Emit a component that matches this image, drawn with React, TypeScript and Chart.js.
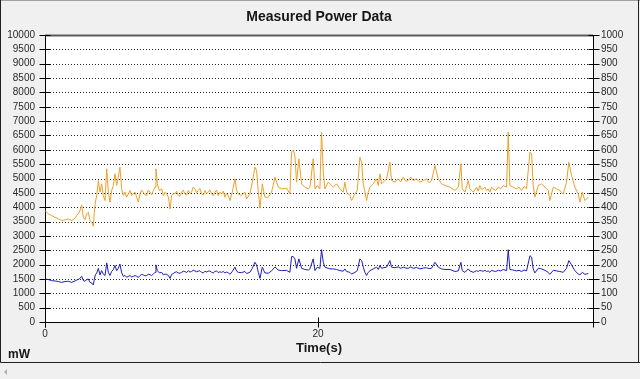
import React, { useEffect, useRef } from 'react';
import { Chart, registerables } from 'chart.js';

Chart.register(...registerables);

const TITLE = 'Measured Power Data';
const X_TITLE = 'Time(s)';
const Y_UNIT = 'mW';
const X_TICKS = [0, 20];

// time in seconds
const TIME_S = [
  0.00, 0.24, 0.49, 0.73, 0.98, 1.22, 1.47, 1.71, 1.95, 2.20, 2.32, 2.52, 2.69, 2.81, 2.93, 3.05, 3.17, 3.30, 3.42, 3.54,
  3.61, 3.69, 3.79, 3.91, 4.03, 4.15, 4.27, 4.40, 4.52, 4.64, 4.76, 4.88, 5.01, 5.13, 5.25, 5.37, 5.49, 5.62, 5.74, 5.86,
  5.98, 6.11, 6.23, 6.35, 6.47, 6.59, 6.72, 6.84, 6.96, 7.08, 7.20, 7.32, 7.45, 7.57, 7.69, 7.81, 7.94, 8.06, 8.13, 8.23, 8.38, 8.55, 8.67, 8.79,
  8.91, 9.04, 9.16, 9.28, 9.40, 9.52, 9.64, 9.76, 9.88, 10.01, 10.13, 10.25, 10.37, 10.50, 10.62, 10.74, 10.86, 10.99, 11.11, 11.23,
  11.35, 11.47, 11.60, 11.72, 11.84, 11.96, 12.08, 12.21, 12.33, 12.45, 12.57, 12.69, 12.81, 12.94, 13.06,
  13.18, 13.30, 13.43, 13.55, 13.72, 13.92, 14.04, 14.16, 14.40, 14.65, 14.77, 15.01, 15.19, 15.38, 15.50, 15.63, 15.75, 15.92, 16.11, 16.36, 16.60,
  16.85, 17.09, 17.33, 17.70, 17.94, 18.07, 18.19, 18.31, 18.43, 18.60, 18.80, 19.04, 19.29, 19.41, 19.65, 19.78, 19.95, 20.14, 20.26, 20.39,
  20.51, 20.75, 20.88, 21.12, 21.36, 21.61, 21.85, 21.97, 22.10, 22.34, 22.46, 22.71, 22.88, 23.07, 23.20, 23.32, 23.44, 23.56, 23.68, 23.81,
  24.05, 24.29, 24.42, 24.54, 24.66, 24.78, 25.03, 25.27, 25.39, 25.64, 25.88, 26.06, 26.25, 26.43, 26.61, 26.80, 26.98, 27.22, 27.47, 27.72,
  27.96, 28.14, 28.32, 28.57, 28.81, 29.06,
  29.30, 29.67, 30.03, 30.28, 30.47, 30.57, 30.77, 31.01, 31.13, 31.38, 31.62, 31.74, 31.86, 31.98, 32.11, 32.23, 32.35, 32.47, 32.60, 32.72,
  32.84, 33.02, 33.21, 33.39, 33.57, 33.82, 33.94,
  34.06, 34.31, 34.55, 34.73, 34.92, 35.10, 35.28, 35.53, 35.65, 35.77, 35.89, 36.14, 36.38, 36.63, 36.87, 36.99, 37.24, 37.48, 37.72, 37.97,
  38.21, 38.38,
  38.58, 38.82, 39.07, 39.19, 39.36, 39.56, 39.80,
];

// orange series, left axis (mW)
const POWER_MW = [
  3883, 3767, 3709, 3651, 3593, 3534, 3558, 3593, 3534, 3616, 3709, 3825, 4081, 3651, 3569, 3767, 3825, 3534, 3476, 3337,
  3825, 4174, 4407, 4930, 4523, 4814, 4407, 4232, 5337, 4523, 4174, 4581, 4756, 5163, 4756, 5047, 5395, 4639, 4407, 4523,
  4349, 4465, 4581, 4407, 4465, 4523, 4349, 4174, 4465, 4600, 4523, 4430, 4407, 4600, 4523, 4430, 4581, 4698, 5337, 4814, 4581, 4639, 4407, 4523,
  4465, 4349, 3941, 4407, 4465, 4465, 4560, 4407, 4380, 4523, 4600, 4465, 4420, 4581, 4480, 4523, 4700, 4639, 4500, 4581,
  4650, 4465, 4420, 4581, 4480, 4523, 4600, 4465, 4400, 4523, 4600, 4407, 4520, 4465, 4560,
  4349, 4480, 4407, 4232, 4523, 4988, 4581, 4465, 4407, 4523, 4290, 4465, 4872, 5395, 5279, 4523, 3965, 4814, 4349, 4349, 4523,
  5047, 4698, 4639, 4662, 4465, 5919, 5977, 5802, 4872, 5686, 4814, 4698, 4639, 4698, 5686, 4639, 4756, 4639, 6616, 5221,
  4639, 4872, 4814, 4698, 4814, 4639, 4523, 4872, 4523, 4407, 4232, 4465, 4581, 5744, 5570, 4814, 4523, 4232, 4523, 4698,
  4814, 4988, 4756, 5163, 4814, 4872, 4988, 5570, 4930, 4872, 4988, 4880, 5047, 4900, 4930, 5050, 4930, 4980, 4872, 4930,
  4988, 4850, 4930, 5453, 4988, 4814,
  4756, 4698, 4581, 4698, 5512, 4639, 4523, 4930, 4639, 4523, 4698, 4560, 4756, 4620, 4639, 4700, 4581, 4640, 4523, 4700,
  4639, 4580, 4698, 4640, 4756, 4698, 6616,
  4756, 4698, 4639, 4700, 4581, 4720, 4639, 5919, 5860, 4756, 4349, 4756, 4814, 4698, 4581, 4232, 4698, 4639, 4581, 4465,
  4872, 5570,
  5105, 4698, 4465, 4174, 4523, 4232, 4349,
];

// blue series, right axis
const CURRENT = [
  150, 148, 144, 143, 141, 138, 141, 142, 138, 143, 146, 150, 159, 144, 142, 148, 150, 138, 136, 129,
  148, 164, 171, 187, 164, 179, 167, 162, 206, 173, 162, 176, 183, 197, 179, 187, 202, 171, 159, 162,
  156, 159, 162, 157, 159, 162, 159, 155, 162, 166, 164, 161, 162, 166, 165, 162, 167, 173, 199, 179, 171, 173, 164, 167,
  166, 162, 152, 166, 169, 173, 175, 171, 170, 173, 177, 176, 172, 179, 174, 176, 180, 178, 175, 177,
  179, 173, 171, 177, 174, 177, 178, 173, 171, 176, 178, 172, 175, 173, 176,
  171, 174, 172, 166, 176, 191, 177, 173, 172, 176, 169, 173, 187, 208, 199, 173, 152, 191, 171, 170, 178,
  192, 181, 179, 180, 173, 228, 228, 220, 187, 220, 187, 183, 181, 185, 220, 179, 191, 187, 252, 208,
  191, 187, 185, 185, 183, 179, 177, 185, 176, 173, 167, 173, 179, 220, 214, 191, 173, 162, 173, 179,
  185, 191, 183, 197, 187, 189, 191, 214, 191, 189, 192, 187, 191, 188, 187, 192, 187, 190, 185, 188,
  189, 186, 187, 208, 191, 185,
  183, 183, 176, 178, 208, 179, 173, 185, 178, 173, 179, 176, 180, 178, 177, 180, 176, 178, 173, 180,
  178, 176, 180, 178, 183, 179, 252,
  183, 181, 178, 180, 176, 181, 178, 231, 226, 185, 171, 187, 185, 180, 173, 166, 180, 178, 176, 173,
  187, 214,
  199, 179, 167, 164, 173, 166, 169,
];

const BG = '#f0f0f0';
const TEXT = '#161616';
const TICK_FONT = { family: 'Liberation Sans, Arial, sans-serif', size: 10 };

const framePlugin = {
  id: 'frame',
  beforeDraw(chart: any) {
    const { ctx, chartArea: a, width, height } = chart;
    ctx.save();
    ctx.fillStyle = BG;
    ctx.fillRect(0, 0, width, height);
    ctx.fillStyle = '#ffffff';
    ctx.fillRect(a.left, a.top, a.right - a.left, a.bottom - a.top);
    ctx.restore();
  },
  beforeDatasetsDraw(chart: any) {
    const { ctx, chartArea: a, scales } = chart;
    const y = scales.y, y1 = scales.y1, x = scales.x;
    ctx.save();
    ctx.lineWidth = 1;
    // dotted grid lines
    ctx.strokeStyle = '#262626';
    ctx.setLineDash([1, 2]);
    y.ticks.forEach((t: any) => {
      if (t.value <= y.min || t.value >= y.max) return;
      const py = Math.round(y.getPixelForValue(t.value)) + 0.5;
      ctx.beginPath();
      ctx.moveTo(a.left + 2, py);
      ctx.lineTo(a.right, py);
      ctx.stroke();
    });
    ctx.setLineDash([]);
    // thick top line
    ctx.strokeStyle = '#5a5a5a';
    ctx.lineWidth = 2;
    ctx.beginPath();
    ctx.moveTo(a.left, a.top + 0.5);
    ctx.lineTo(a.right, a.top + 0.5);
    ctx.stroke();
    ctx.lineWidth = 1;
    ctx.strokeStyle = '#000000';
    const L = Math.round(a.left) + 0.5;
    const R = Math.round(a.right) + 0.5;
    const B = Math.round(a.bottom) + 0.5;
    // axes
    ctx.beginPath();
    ctx.moveTo(L, a.top);
    ctx.lineTo(L, B + 5);
    ctx.moveTo(R, a.top);
    ctx.lineTo(R, B + 5);
    ctx.moveTo(a.left - 5, B);
    ctx.lineTo(a.right, B);
    ctx.stroke();
    // tick marks crossing axes
    ctx.beginPath();
    y.ticks.forEach((t: any) => {
      const py = Math.round(y.getPixelForValue(t.value)) + 0.5;
      ctx.moveTo(L - 6, py);
      ctx.lineTo(L + 5, py);
    });
    y1.ticks.forEach((t: any) => {
      const py = Math.round(y1.getPixelForValue(t.value)) + 0.5;
      ctx.moveTo(R - 5, py);
      ctx.lineTo(R + 6, py);
    });
    x.ticks.forEach((t: any) => {
      const px = Math.round(x.getPixelForValue(t.value)) + 0.5;
      ctx.moveTo(px, B - 5);
      ctx.lineTo(px, B + 5);
    });
    ctx.stroke();
    // x tick labels
    ctx.fillStyle = '#2a2a2a';
    ctx.font = '10px "Liberation Sans", Arial, sans-serif';
    ctx.textAlign = 'center';
    ctx.textBaseline = 'middle';
    x.ticks.forEach((t: any) => {
      ctx.fillText(String(t.value), x.getPixelForValue(t.value), 334);
    });
    ctx.restore();
  },
  afterDraw(chart: any) {
    const { ctx, chartArea: a, width } = chart;
    ctx.save();
    ctx.fillStyle = TEXT;
    ctx.textAlign = 'center';
    ctx.textBaseline = 'middle';
    ctx.font = 'bold 14px "Liberation Sans", Arial, sans-serif';
    ctx.fillText(TITLE, (a.left + a.right) / 2, 17);
    ctx.font = 'bold 13px "Liberation Sans", Arial, sans-serif';
    ctx.fillText(X_TITLE, (a.left + a.right) / 2, 348);
    ctx.textAlign = 'left';
    ctx.font = 'bold 12px "Liberation Sans", Arial, sans-serif';
    ctx.fillText(Y_UNIT, 8, 355);
    // panel borders
    ctx.lineWidth = 1;
    ctx.strokeStyle = '#a0a0a0';
    ctx.beginPath();
    ctx.moveTo(0, 0.5);
    ctx.lineTo(width, 0.5);
    ctx.stroke();
    ctx.strokeStyle = '#202020';
    ctx.beginPath();
    ctx.moveTo(0.5, 0);
    ctx.lineTo(0.5, 362.5);
    ctx.lineTo(width, 362.5);
    ctx.moveTo(638.5, 0);
    ctx.lineTo(638.5, 362.5);
    ctx.stroke();
    // small scroll arrow
    ctx.fillStyle = '#b0b0b0';
    ctx.beginPath();
    ctx.moveTo(4, 372);
    ctx.lineTo(7, 369);
    ctx.lineTo(7, 375);
    ctx.closePath();
    ctx.fill();
    ctx.restore();
  },
};

export default function App() {
  const ref = useRef<HTMLCanvasElement | null>(null);

  useEffect(() => {
    document.body.style.margin = '0';
    document.body.style.background = BG;
    const canvas = ref.current;
    if (!canvas) return;
    const chart = new Chart(canvas, {
      type: 'line',
      data: {
        datasets: [
          {
            label: 'Power',
            data: TIME_S.map((t, i) => ({ x: t, y: POWER_MW[i] })),
            yAxisID: 'y',
            borderColor: 'rgb(238,160,42)',
            backgroundColor: 'rgb(238,160,42)',
            borderWidth: 1,
            pointRadius: 0,
            tension: 0,
          },
          {
            label: 'Current',
            data: TIME_S.map((t, i) => ({ x: t, y: CURRENT[i] })),
            yAxisID: 'y1',
            borderColor: 'rgb(30,30,185)',
            backgroundColor: 'rgb(30,30,185)',
            borderWidth: 1,
            pointRadius: 0,
            tension: 0,
          },
        ],
      },
      options: {
        responsive: false,
        animation: false,
        devicePixelRatio: 1,
        layout: { padding: { top: 35, bottom: 17, left: 0, right: 0 } },
        plugins: {
          legend: { display: false },
          tooltip: { enabled: false },
          title: { display: false },
        },
        scales: {
          x: {
            type: 'linear',
            position: 'bottom',
            min: 0,
            max: 40.15,
            grid: { display: false, drawTicks: false },
            border: { display: false },
            ticks: { display: false },
            afterBuildTicks: (s: any) => {
              s.ticks = X_TICKS.map((v) => ({ value: v }));
            },
            afterFit: (s: any) => {
              s.height = 40;
            },
          },
          y: {
            position: 'left',
            min: 0,
            max: 10000,
            grid: { display: false, drawTicks: false },
            border: { display: false },
            ticks: {
              stepSize: 500,
              font: TICK_FONT,
              color: '#2a2a2a',
              padding: 10,
              autoSkip: false,
              callback: (v: any) => String(v),
            },
            afterFit: (s: any) => {
              s.width = 45;
            },
          },
          y1: {
            position: 'right',
            min: 0,
            max: 1000,
            grid: { display: false, drawTicks: false },
            border: { display: false },
            ticks: {
              stepSize: 50,
              font: TICK_FONT,
              color: '#2a2a2a',
              padding: 8,
              autoSkip: false,
              callback: (v: any) => String(v),
            },
            afterFit: (s: any) => {
              s.width = 47;
            },
          },
        },
      } as any,
      plugins: [framePlugin],
    });
    return () => chart.destroy();
  }, []);

  return (
    <div style={{ width: 640, height: 379, background: BG }}>
      <canvas ref={ref} width={640} height={379} style={{ display: 'block' }} />
    </div>
  );
}
